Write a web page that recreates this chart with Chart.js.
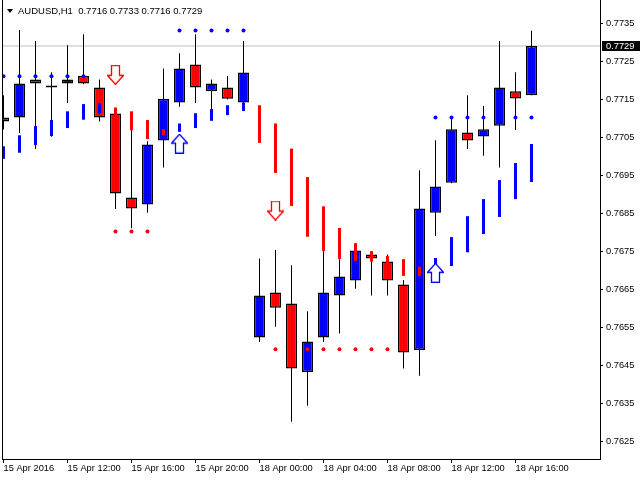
<!DOCTYPE html>
<html>
<head>
<meta charset="utf-8">
<title>AUDUSD,H1</title>
<script src="https://cdn.jsdelivr.net/npm/chart.js@4.4.1/dist/chart.umd.min.js"></script>
<style>
  html, body { margin: 0; padding: 0; background: #fff; }
  #wrap { position: relative; width: 640px; height: 480px; }
  #hdr { position: absolute; left: 18px; top: 6px; font: 9.5px "Liberation Sans", Arial, sans-serif; line-height: 10px; white-space: pre; color: #000; }
  #tri { position: absolute; left: 7px; top: 9px; width: 0; height: 0;
         border-left: 3px solid transparent; border-right: 3px solid transparent; border-top: 4px solid #000; }
</style>
</head>
<body>
<div id="wrap">
  <canvas id="chart" width="640" height="480"></canvas>
  <div id="tri"></div>
  <div id="hdr"></div>
</div>
<script>
var symbol = 'AUDUSD,H1';
var bidPrice = 0.7729;

// hourly bars, 15 Apr 08:00 .. 18 Apr 17:00
var opens  = [0.77102, 0.77102, 0.77202, 0.77181, 0.77191, 0.77211, 0.77181, 0.77112, 0.76891, 0.76873,
              0.77041, 0.77141, 0.77241, 0.77171, 0.77181, 0.77141, 0.76523, 0.76641, 0.76612, 0.76432,
              0.76523, 0.76633, 0.76673, 0.76741, 0.76723, 0.76662, 0.76490, 0.76851, 0.76930, 0.77062,
              0.77052, 0.77080, 0.77171, 0.7716];
var highs  = [0.77160, 0.77332, 0.77303, 0.77221, 0.77292, 0.77321, 0.77202, 0.77126, 0.77082, 0.77039,
              0.77231, 0.77271, 0.77321, 0.77202, 0.77211, 0.77303, 0.76731, 0.76753, 0.76713, 0.76592,
              0.76750, 0.76729, 0.76771, 0.76750, 0.76741, 0.76674, 0.76963, 0.77042, 0.77105, 0.77160,
              0.77132, 0.77303, 0.77221, 0.7733];
var lows   = [0.77070, 0.77061, 0.77019, 0.77051, 0.77140, 0.77189, 0.77091, 0.76861, 0.76810, 0.76851,
              0.76970, 0.77130, 0.77140, 0.77124, 0.77149, 0.77119, 0.76511, 0.76551, 0.76301, 0.76343,
              0.76511, 0.76533, 0.76651, 0.76633, 0.76633, 0.76441, 0.76422, 0.76790, 0.76929, 0.77019,
              0.77001, 0.76970, 0.77069, 0.7716];
var closes = [0.77091, 0.77191, 0.77191, 0.77181, 0.77202, 0.77191, 0.77102, 0.76902, 0.76862, 0.77031,
              0.77151, 0.77231, 0.77181, 0.77191, 0.77151, 0.77220, 0.76633, 0.76601, 0.76441, 0.76512,
              0.76641, 0.76683, 0.76752, 0.76731, 0.76673, 0.76483, 0.76862, 0.76920, 0.77071, 0.77041,
              0.77071, 0.77181, 0.77152, 0.7729];

// trend indicator segments (1 = up / blue, 0 = down / red)
var trendHigh = [0.77026, 0.77055, 0.77079, 0.77095, 0.77118, 0.77137, 0.77139, 0.77128, 0.77118, 0.77095,
                 0.77071, 0.77086, 0.77113, 0.77124, 0.77134, 0.77141, 0.77134, 0.77086, 0.77020, 0.76945,
                 0.76868, 0.76811, 0.76771, 0.76750, 0.76737, 0.76729, 0.76709, 0.76732, 0.76787, 0.76842,
                 0.76887, 0.76937, 0.76982, 0.77032];
var trendLow  = [0.76993, 0.77009, 0.77029, 0.77053, 0.77074, 0.77096, 0.77112, 0.77105, 0.77068, 0.77045,
                 0.77055, 0.77064, 0.77074, 0.77093, 0.77108, 0.77119, 0.77035, 0.76956, 0.76869, 0.76788,
                 0.76750, 0.76729, 0.76724, 0.76722, 0.76718, 0.76685, 0.76685, 0.76696, 0.76711, 0.76747,
                 0.76795, 0.76840, 0.76887, 0.76932];
var trendUp   = [1, 1, 1, 1, 1, 1, 1, 0, 0, 0, 0, 1, 1, 1, 1, 1, 0, 0, 0, 0,
                 0, 0, 0, 0, 0, 0, 0, 1, 1, 1, 1, 1, 1, 1];

var N = null;
var upperDots = [0.77210, 0.77210, 0.77210, 0.77210, 0.77210, 0.77210, N, N, N, N,
                 N, 0.77331, 0.77331, 0.77331, 0.77331, 0.77331, N, N, N, N,
                 N, N, N, N, N, N, N, 0.77102, 0.77102, 0.77102,
                 0.77102, 0.77102, 0.77102, 0.77102];
var lowerDots = [N, N, N, N, N, N, N, 0.76802, 0.76802, 0.76802,
                 N, N, N, N, N, N, N, 0.76492, 0.76492, 0.76492,
                 0.76492, 0.76492, 0.76492, 0.76492, 0.76492, N, N, N, N, N,
                 N, N, N, N];
var sellArrows = [N, N, N, N, N, N, N, 0.77214, N, N, N, N, N, N, N, N, N, 0.76857, N, N,
                  N, N, N, N, N, N, N, N, N, N, N, N, N, N];
var buyArrows  = [N, N, N, N, N, N, N, N, N, N, N, 0.77033, N, N, N, N, N, N, N, N,
                  N, N, N, N, N, N, N, 0.76693, N, N, N, N, N, N];

var yTicks = [0.7625, 0.7635, 0.7645, 0.7655, 0.7665, 0.7675, 0.7685, 0.7695, 0.7705, 0.7715, 0.7725, 0.7735];
var xTicks = [0, 4, 8, 12, 16, 20, 24, 28, 32];
var xTickLabels = ['15 Apr 2016', '15 Apr 12:00', '15 Apr 16:00', '15 Apr 20:00', '18 Apr 00:00',
                   '18 Apr 04:00', '18 Apr 08:00', '18 Apr 12:00', '18 Apr 16:00'];

var xMin = -0.09375, xMax = 37.28125;
var yMin = 0.76203, yMax = 0.77411;

var BLUE = '#0000ff', RED = '#ff0000';

function pts(arr) {
  var out = [];
  arr.forEach(function (v, i) { if (v !== null) out.push({ x: i, y: v }); });
  return out;
}

function makeArrow(up, color) {
  var c = document.createElement('canvas');
  c.width = 17; c.height = 20;
  var g = c.getContext('2d');
  if (up) { g.translate(0, 20); g.scale(1, -1); }
  g.beginPath();
  g.moveTo(4.5, 0.5); g.lineTo(12.5, 0.5); g.lineTo(12.5, 10.5); g.lineTo(16.5, 10.5);
  g.lineTo(8.5, 19.5); g.lineTo(0.5, 10.5); g.lineTo(4.5, 10.5); g.closePath();
  g.fillStyle = '#fff'; g.fill();
  g.strokeStyle = color; g.lineWidth = 1.3; g.stroke();
  return c;
}

var idx = opens.map(function (_, i) { return i; });
var wickData = idx.map(function (i) { return { x: i, y: [lows[i], highs[i]] }; });
var bodyData = idx.map(function (i) { return { x: i, y: [opens[i], closes[i]] }; });
var bodyColors = idx.map(function (i) { return closes[i] > opens[i] ? BLUE : RED; });
var trendData = idx.map(function (i) { return { x: i, y: [trendLow[i], trendHigh[i]] }; });
var trendColors = trendUp.map(function (u) { return u ? BLUE : RED; });

var last = opens.length - 1;
document.getElementById('hdr').textContent = symbol + '  ' +
  [opens[last], highs[last], lows[last], closes[last]].map(function (v) { return v.toFixed(4); }).join(' ');

var frame = {
  id: 'frame',
  afterDraw: function (chart) {
    var a = chart.chartArea, ctx = chart.ctx;
    ctx.save();
    ctx.strokeStyle = '#000'; ctx.lineWidth = 1;
    ctx.beginPath(); ctx.moveTo(a.left + 0.5, a.top); ctx.lineTo(a.left + 0.5, a.bottom); ctx.stroke();
    // current price box on the axis
    var y = chart.scales.y.getPixelForValue(bidPrice);
    ctx.fillStyle = '#000';
    ctx.fillRect(a.right + 2, Math.round(y) - 5, 38, 10);
    ctx.fillStyle = '#fff';
    ctx.font = '9.3px "Liberation Sans", Arial, sans-serif';
    ctx.textBaseline = 'middle';
    ctx.fillText(bidPrice.toFixed(4), a.right + 6, y);
    ctx.restore();
  }
};

Chart.defaults.font.family = '"Liberation Sans", Arial, sans-serif';
Chart.defaults.font.size = 9.3;
Chart.defaults.color = '#000';

new Chart(document.getElementById('chart'), {
  type: 'bar',
  data: {
    datasets: [
      { type: 'line', data: [{ x: xMin, y: bidPrice }, { x: xMax, y: bidPrice }],
        borderColor: '#c0c0c0', borderWidth: 1, pointRadius: 0, order: 6 },
      { data: wickData, backgroundColor: '#000', borderWidth: 0, barThickness: 1,
        grouped: false, inflateAmount: 0, order: 5 },
      { data: bodyData, backgroundColor: bodyColors, borderColor: '#000', borderWidth: 1.5,
        borderSkipped: false, barThickness: 11, minBarLength: 2, grouped: false, inflateAmount: 0, order: 4 },
      { data: trendData, backgroundColor: trendColors, borderWidth: 0, barThickness: 3,
        grouped: false, inflateAmount: 0, order: 3 },
      { type: 'line', data: pts(upperDots), showLine: false, pointRadius: 2, pointBorderWidth: 0,
        pointBackgroundColor: BLUE, order: 2 },
      { type: 'line', data: pts(lowerDots), showLine: false, pointRadius: 2, pointBorderWidth: 0,
        pointBackgroundColor: RED, order: 2 },
      { type: 'line', data: pts(sellArrows), showLine: false, pointStyle: makeArrow(false, RED), order: 1 },
      { type: 'line', data: pts(buyArrows), showLine: false, pointStyle: makeArrow(true, BLUE), order: 1 }
    ]
  },
  options: {
    responsive: false,
    animation: false,
    devicePixelRatio: 1,
    layout: { autoPadding: false, padding: { left: 2, top: 0, right: 0, bottom: 0 } },
    plugins: { legend: { display: false }, tooltip: { enabled: false } },
    scales: {
      x: {
        type: 'linear', min: xMin, max: xMax, offset: false, bounds: 'data',
        grid: { offset: false, drawOnChartArea: false, drawTicks: true, tickLength: 4, color: '#000' },
        border: { display: true, color: '#000', width: 1 },
        ticks: { autoSkip: false, maxRotation: 0, align: 'start', padding: 0,
                 callback: function (v) { return xTickLabels[xTicks.indexOf(v)]; } },
        afterBuildTicks: function (s) { s.ticks = xTicks.map(function (v) { return { value: v }; }); },
        afterFit: function (s) { s.height = 21; s.paddingLeft = 0; s.paddingRight = 0; }
      },
      y: {
        type: 'linear', position: 'right', min: yMin, max: yMax, beginAtZero: false, bounds: 'data',
        grid: { drawOnChartArea: false, drawTicks: true, tickLength: 3, color: '#000' },
        border: { display: true, color: '#000', width: 1 },
        ticks: { padding: 3, callback: function (v) { return v.toFixed(4); } },
        afterBuildTicks: function (s) { s.ticks = yTicks.map(function (v) { return { value: v }; }); },
        afterFit: function (s) { s.width = 40; s.paddingTop = 0; s.paddingBottom = 0; }
      }
    }
  },
  plugins: [frame]
});
</script>
</body>
</html>
